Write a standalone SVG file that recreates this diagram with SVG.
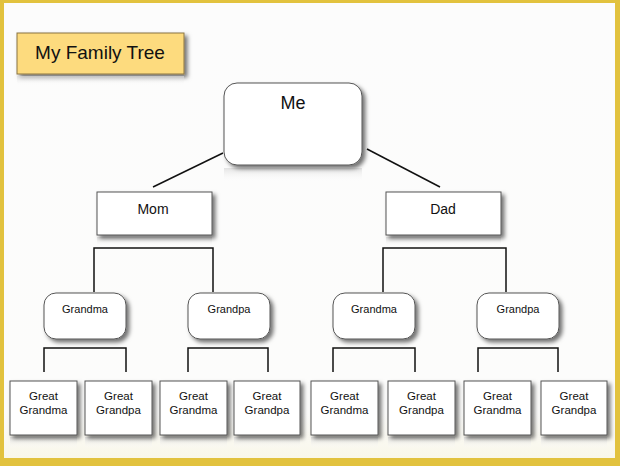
<svg xmlns="http://www.w3.org/2000/svg" width="620" height="466" viewBox="0 0 620 466">
<defs>
<filter id="sh" x="-20%" y="-20%" width="150%" height="160%">
<feDropShadow dx="3" dy="3" stdDeviation="2" flood-color="#000" flood-opacity="0.55"/>
</filter>
<linearGradient id="refl" x1="0" y1="0" x2="0" y2="1">
<stop offset="0" stop-color="#d8d8d8" stop-opacity="0.7"/>
<stop offset="1" stop-color="#ffffff" stop-opacity="0"/>
</linearGradient>
<linearGradient id="bg" x1="0" y1="0" x2="0" y2="1">
<stop offset="0" stop-color="#fcfcfc"/>
<stop offset="0.9" stop-color="#fcfcfb"/>
<stop offset="1" stop-color="#f9f7ea"/>
</linearGradient>
</defs>
<style>
.box{fill:#ffffff;stroke:#555555;stroke-width:1;filter:url(#sh)}
.refl{fill:url(#refl);stroke:none}
.t{font-family:"Liberation Sans",Arial,sans-serif;fill:#111111;text-anchor:middle}
.conn line,.conn polyline{stroke:#111111;stroke-width:1.5;fill:none}
</style>
<rect x="0" y="0" width="620" height="466" fill="#e2c23e"/>
<rect x="4" y="3" width="611" height="455" fill="url(#bg)"/>

<g id="title">
<rect x="17" y="33" width="167" height="41" fill="#fddb7e" stroke="#8a7442" stroke-width="1" filter="url(#sh)"/>
<rect x="17" y="76" width="167" height="10" class="refl"/>
<text x="100" y="59" class="t" font-size="19">My Family Tree</text>
</g>

<g class="conn" id="connectors">
<line x1="223" y1="153" x2="153" y2="187"/>
<line x1="367" y1="149" x2="440" y2="187"/>
<polyline points="94,292 94,248 213,248 213,292"/>
<polyline points="383,292 383,248 506,248 506,292"/>
<polyline points="44,372 44,348 126,348 126,372"/>
<polyline points="188,372 188,348 268,348 268,372"/>
<polyline points="333,372 333,348 415,348 415,372"/>
<polyline points="478,372 478,348 558,348 558,372"/>
</g>

<g id="me">
<rect x="224" y="168" width="138" height="14" class="refl"/>
<rect x="224" y="83" width="138" height="82" rx="13" class="box"/>
<text x="293" y="109" class="t" font-size="18">Me</text>
</g>

<g id="mom">
<rect x="97" y="237" width="115" height="10" class="refl"/>
<rect x="97" y="192" width="115" height="43" class="box"/>
<text x="153" y="214" class="t" font-size="14">Mom</text>
</g>
<g id="dad">
<rect x="386" y="237" width="115" height="10" class="refl"/>
<rect x="386" y="192" width="115" height="43" class="box"/>
<text x="443" y="214" class="t" font-size="14">Dad</text>
</g>

<g id="grandma1">
<rect x="44" y="293" width="82" height="46" rx="12" class="box"/>
<text x="85" y="313" class="t" font-size="11">Grandma</text>
</g>
<g id="grandpa1">
<rect x="188" y="293" width="82" height="46" rx="12" class="box"/>
<text x="229" y="313" class="t" font-size="11">Grandpa</text>
</g>
<g id="grandma2">
<rect x="333" y="293" width="82" height="46" rx="12" class="box"/>
<text x="374" y="313" class="t" font-size="11">Grandma</text>
</g>
<g id="grandpa2">
<rect x="477" y="293" width="82" height="46" rx="12" class="box"/>
<text x="518" y="313" class="t" font-size="11">Grandpa</text>
</g>

<g id="gg1">
<rect x="10" y="437" width="67" height="12" class="refl"/>
<rect x="10" y="381" width="67" height="54" class="box"/>
<text class="t" font-size="11.5"><tspan x="43.5" y="400">Great</tspan><tspan x="43.5" y="414">Grandma</tspan></text>
</g>
<g id="gg2">
<rect x="85" y="437" width="67" height="12" class="refl"/>
<rect x="85" y="381" width="67" height="54" class="box"/>
<text class="t" font-size="11.5"><tspan x="118.5" y="400">Great</tspan><tspan x="118.5" y="414">Grandpa</tspan></text>
</g>
<g id="gg3">
<rect x="160" y="437" width="67" height="12" class="refl"/>
<rect x="160" y="381" width="67" height="54" class="box"/>
<text class="t" font-size="11.5"><tspan x="193.5" y="400">Great</tspan><tspan x="193.5" y="414">Grandma</tspan></text>
</g>
<g id="gg4">
<rect x="234" y="437" width="66" height="12" class="refl"/>
<rect x="234" y="381" width="66" height="54" class="box"/>
<text class="t" font-size="11.5"><tspan x="267" y="400">Great</tspan><tspan x="267" y="414">Grandpa</tspan></text>
</g>
<g id="gg5">
<rect x="311" y="437" width="67" height="12" class="refl"/>
<rect x="311" y="381" width="67" height="54" class="box"/>
<text class="t" font-size="11.5"><tspan x="344.5" y="400">Great</tspan><tspan x="344.5" y="414">Grandma</tspan></text>
</g>
<g id="gg6">
<rect x="388" y="437" width="67" height="12" class="refl"/>
<rect x="388" y="381" width="67" height="54" class="box"/>
<text class="t" font-size="11.5"><tspan x="421.5" y="400">Great</tspan><tspan x="421.5" y="414">Grandpa</tspan></text>
</g>
<g id="gg7">
<rect x="464" y="437" width="67" height="12" class="refl"/>
<rect x="464" y="381" width="67" height="54" class="box"/>
<text class="t" font-size="11.5"><tspan x="497.5" y="400">Great</tspan><tspan x="497.5" y="414">Grandma</tspan></text>
</g>
<g id="gg8">
<rect x="541" y="437" width="66" height="12" class="refl"/>
<rect x="541" y="381" width="66" height="54" class="box"/>
<text class="t" font-size="11.5"><tspan x="574" y="400">Great</tspan><tspan x="574" y="414">Grandpa</tspan></text>
</g>
</svg>
